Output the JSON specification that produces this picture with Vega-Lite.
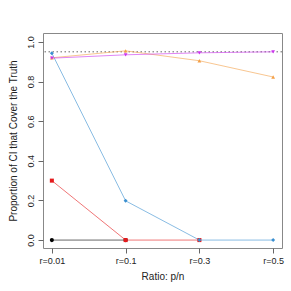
{
  "$schema": "https://vega.github.io/schema/vega-lite/v6.json",
  "width": 239,
  "height": 215,
  "autosize": {"type": "none"},
  "padding": {"left": 43, "top": 33, "right": 9, "bottom": 43},
  "background": "white",
  "config": {
    "font": "Liberation Sans",
    "view": {"stroke": "#888888", "strokeWidth": 1}
  },
  "data": {
    "values": [
      {"r": 1, "v": 0, "s": "A"},
      {"r": 2, "v": 0, "s": "A"},
      {"r": 1, "v": 0.3, "s": "B"},
      {"r": 2, "v": 0, "s": "B"},
      {"r": 3, "v": 0, "s": "B"},
      {"r": 1, "v": 0.943, "s": "C"},
      {"r": 2, "v": 0.198, "s": "C"},
      {"r": 3, "v": 0, "s": "C"},
      {"r": 4, "v": 0, "s": "C"},
      {"r": 1, "v": 0.92, "s": "D"},
      {"r": 2, "v": 0.955, "s": "D"},
      {"r": 3, "v": 0.905, "s": "D"},
      {"r": 4, "v": 0.823, "s": "D"},
      {"r": 1, "v": 0.918, "s": "E"},
      {"r": 2, "v": 0.935, "s": "E"},
      {"r": 3, "v": 0.945, "s": "E"},
      {"r": 4, "v": 0.95, "s": "E"}
    ]
  },
  "encoding": {
    "x": {
      "field": "r", "type": "quantitative",
      "scale": {"domain": [0.88, 4.12], "nice": false, "zero": false},
      "axis": {
        "values": [1, 2, 3, 4],
        "labelExpr": "datum.value == 1 ? 'r=0.01' : datum.value == 2 ? 'r=0.1' : datum.value == 3 ? 'r=0.3' : 'r=0.5'",
        "title": "Ratio: p/n",
        "grid": false, "domain": false,
        "tickColor": "#666666", "tickSize": 5,
        "labelFontSize": 9, "labelColor": "#222222", "labelPadding": 3,
        "titleFontSize": 10, "titleFontWeight": "normal", "titleColor": "#222222", "titlePadding": 6
      }
    },
    "y": {
      "field": "v", "type": "quantitative",
      "scale": {"domain": [-0.04, 1.045], "nice": false, "zero": false},
      "axis": {
        "values": [0, 0.2, 0.4, 0.6, 0.8, 1.0],
        "format": ".1f",
        "title": "Proportion of CI that Cover the Truth",
        "grid": false, "domain": false,
        "tickColor": "#666666", "tickSize": 5,
        "labelAngle": 270, "labelAlign": "center", "labelBaseline": "bottom",
        "labelFontSize": 9, "labelColor": "#222222", "labelPadding": 3,
        "titleFontSize": 10, "titleFontWeight": "normal", "titleColor": "#222222", "titlePadding": 8
      }
    }
  },
  "layer": [
    {
      "data": {"values": [{"y": 0.95}]},
      "mark": {"type": "rule", "strokeDash": [1.5, 2.5], "color": "#666666", "strokeWidth": 1},
      "encoding": {"y": {"field": "y", "type": "quantitative"}, "x": null}
    },
    {
      "mark": {"type": "line", "strokeWidth": 1, "opacity": 0.6},
      "encoding": {
        "color": {
          "field": "s", "type": "nominal", "legend": null,
          "scale": {"domain": ["A", "B", "C", "D", "E"], "range": ["#000000", "#e41a1c", "#3a8fd0", "#f4a048", "#cc33ee"]}
        }
      }
    },
    {
      "mark": {"type": "point", "filled": true, "opacity": 1},
      "encoding": {
        "color": {
          "field": "s", "type": "nominal", "legend": null,
          "scale": {"domain": ["A", "B", "C", "D", "E"], "range": ["#000000", "#d7191c", "#2b74b8", "#eb9a48", "#cc22ee"]}
        },
        "shape": {
          "field": "s", "type": "nominal", "legend": null,
          "scale": {"domain": ["A", "B", "C", "D", "E"], "range": ["circle", "square", "diamond", "triangle-up", "triangle-down"]}
        },
        "size": {
          "field": "s", "type": "nominal", "legend": null,
          "scale": {"domain": ["A", "B", "C", "D", "E"], "range": [17, 14, 26, 17, 17]}
        }
      }
    }
  ]
}
